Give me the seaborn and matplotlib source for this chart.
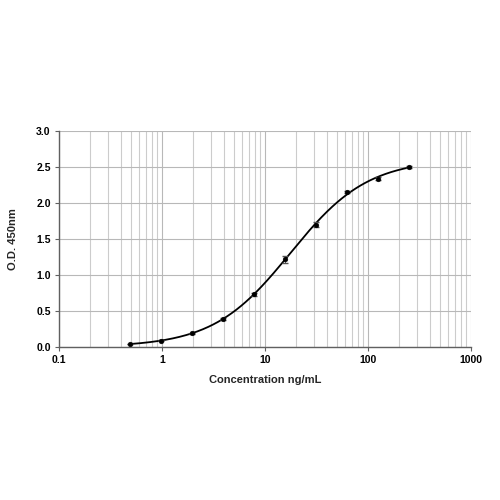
import numpy as np
import pandas as pd
import matplotlib
matplotlib.use("Agg")
import matplotlib.pyplot as plt
from matplotlib.ticker import LogLocator, FixedLocator, NullFormatter
import seaborn as sns

conc = [0.49, 0.98, 1.95, 3.9, 7.8, 15.6, 31.25, 62.5, 125, 250]
od = [0.04, 0.09, 0.19, 0.39, 0.73, 1.22, 1.70, 2.15, 2.34, 2.50]
err = [0.005, 0.005, 0.01, 0.01, 0.02, 0.05, 0.03, 0.01, 0.015, 0.01]
x_ticks = [0.1, 1, 10, 100, 1000]
x_ticklabels = ["0.1", "1", "10", "100", "1000"]
y_ticks = [0.0, 0.5, 1.0, 1.5, 2.0, 2.5, 3.0]

df = pd.DataFrame({"conc": conc, "od": od, "err": err})

# 4-parameter logistic fit (Levenberg-Marquardt, numpy only)
x = np.array(conc, float)
y = np.array(od, float)

def f4(p, xx):
    a, b, c, d = p
    return d + (a - d) / (1 + (xx / c) ** b)

p = np.array([0.0, 1.2, 20.0, 2.8])
lam = 1e-2
for _ in range(500):
    r = y - f4(p, x)
    J = np.zeros((len(x), 4))
    for k in range(4):
        dp = np.zeros(4)
        h = 1e-6 * max(abs(p[k]), 1e-3)
        dp[k] = h
        J[:, k] = (f4(p + dp, x) - f4(p - dp, x)) / (2 * h)
    A = J.T @ J
    g = J.T @ r
    step = np.linalg.solve(A + lam * np.diag(np.diag(A) + 1e-12), g)
    pn = p + step
    if pn[2] > 0 and np.sum((y - f4(pn, x)) ** 2) < np.sum(r ** 2):
        p = pn
        lam *= 0.5
    else:
        lam *= 4

xs = np.logspace(np.log10(min(conc)), np.log10(max(conc)), 300)
curve = pd.DataFrame({"conc": xs, "od": f4(p, xs)})

sns.set_style("white")
plt.rcParams["font.family"] = ["Liberation Sans", "DejaVu Sans"]
plt.rcParams["font.weight"] = "bold"

fig = plt.figure(figsize=(5, 5), dpi=100)
ax = fig.add_axes([0.118, 0.306, 0.824, 0.432])

sns.lineplot(data=curve, x="conc", y="od", ax=ax, color="black", lw=1.3, zorder=3)
ax.errorbar(df["conc"], df["od"], yerr=df["err"], fmt="none", ecolor="#555555",
            elinewidth=0.8, capsize=2, zorder=3)
sns.scatterplot(data=df, x="conc", y="od", ax=ax, color="black", s=12,
                edgecolor="black", zorder=4)

ax.set_xscale("log")
ax.set_xlim(0.1, 1000)
ax.set_ylim(0, 3.0)
ax.xaxis.set_major_locator(FixedLocator(x_ticks))
ax.set_xticklabels(x_ticklabels)
ax.xaxis.set_minor_locator(LogLocator(base=10, subs=np.arange(2, 10)))
ax.xaxis.set_minor_formatter(NullFormatter())
ax.set_yticks(y_ticks)
ax.set_yticklabels([f"{v:.1f}" for v in y_ticks])

ax.grid(True, which="major", axis="both", color="#b8b8b8", lw=0.8)
ax.grid(True, which="minor", axis="x", color="#cccccc", lw=0.8)
ax.set_axisbelow(True)

for s in ["top", "right"]:
    ax.spines[s].set_visible(False)
for s in ["left", "bottom"]:
    ax.spines[s].set_color("#606060")
    ax.spines[s].set_linewidth(1.0)

ax.tick_params(axis="both", which="major", direction="out", length=3, width=0.8,
               color="#606060", pad=3, left=True, bottom=True, labelsize=7.5,
               labelcolor="black")
ax.tick_params(axis="x", which="minor", length=0)

ax.set_xlabel("Concentration ng/mL", fontsize=8, fontweight="bold", labelpad=7)
ax.set_ylabel("O.D. 450nm", fontsize=8, fontweight="bold", labelpad=13)

fig.savefig("out.png", dpi=100)
